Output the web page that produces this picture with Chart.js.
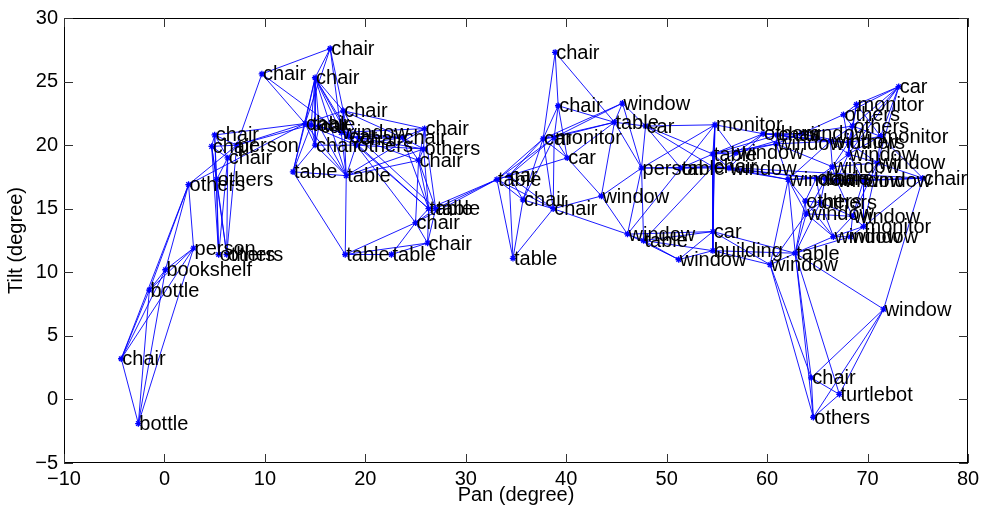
<!DOCTYPE html>
<html><head><meta charset="utf-8">
<script src="https://cdn.jsdelivr.net/npm/chart.js@4.4.1/dist/chart.umd.min.js"></script>
<style>html,body{margin:0;padding:0;background:#fff;}#wrap{width:984px;height:507px;}</style>
</head><body><div id="wrap"><canvas id="c" width="984" height="507"></canvas></div>
<script>
// ---- data ----
const nodeLabels = [
 'chair','bottle','bottle','bookshelf','person','others','chair','chair','chair','person',
 'others','others','others','chair','chair','chair','chair','chair','table','car',
 'window','car','chair','chair','others','chair','chair','others','chair','table',
 'table','table','table','chair','chair','table','table','table','car','chair',
 'chair','table','chair','chair','car','monitor','car','window','table','car',
 'window','person','window','table','window','monitor','car','building','table','chair',
 'table','window','window','others','chair','window','window','others','monitor','car',
 'others','monitor','others','window','window','window','window','window','others','table',
 'window','window','chair','others','others','window','window','monitor','window','window',
 'table','window','window','chair','turtlebot','others'];
const nodePan = [
 -4.3,-2.6,-1.5,0.1,2.9,2.4,5.0,4.7,6.3,7.2,
 5.2,5.4,6.2,9.7,16.5,15.0,17.8,14.0,14.6,15.4,
 17.6,18.3,19.4,15.0,19.1,23.7,25.9,25.8,25.3,12.8,
 18.1,26.3,27.0,25.0,26.2,18.0,22.6,33.1,34.3,35.7,
 38.7,34.7,38.9,39.2,37.7,38.8,40.1,45.6,44.8,47.9,
 43.5,47.5,46.1,47.7,51.2,54.8,54.6,54.6,51.4,54.6,
 54.6,56.9,56.2,59.6,61.0,63.4,60.9,67.6,68.9,73.1,
 68.5,71.3,68.1,66.3,68.1,66.5,71.0,62.1,64.9,65.8,
 66.9,69.6,75.5,63.8,65.3,63.9,68.5,69.6,66.6,68.3,
 62.8,60.3,71.6,64.4,67.2,64.6];
const nodeTilt = [
 3.2,-1.9,8.6,10.2,11.9,16.9,20.8,19.9,19.0,20.0,
 17.3,11.4,11.4,25.6,27.6,25.3,22.7,21.7,21.6,21.5,
 21.0,20.7,20.5,20.0,20.0,20.6,21.3,19.7,18.8,17.9,
 17.6,15.0,15.0,13.9,12.3,11.4,11.4,17.3,17.6,15.7,
 15.0,11.1,27.3,23.1,20.5,20.6,19.0,23.3,21.8,21.5,
 16.0,18.2,13.0,12.5,11.0,21.6,13.2,11.7,18.2,18.3,
 19.3,19.4,18.2,20.9,20.8,20.9,20.1,22.4,23.2,24.6,
 21.5,20.7,20.2,20.3,19.3,18.3,18.6,17.3,17.4,17.4,
 17.2,17.2,17.4,15.6,15.5,14.6,14.4,13.6,12.8,12.8,
 11.5,10.6,7.1,1.7,0.4,-1.4];
const edges = [
 [0,1],[0,2],[0,3],[0,4],[0,5],[1,2],[1,3],[1,4],[2,3],[2,4],[2,5],[3,4],[3,5],[4,5],
 [5,17],[5,9],[6,7],[6,8],[6,9],[7,8],[7,9],[8,9],[6,10],[7,10],[8,10],[10,11],[10,12],
 [6,11],[7,11],[8,12],[9,12],[8,11],[7,12],[9,17],[9,18],[6,17],[13,9],
 [13,14],[13,17],[13,20],[14,15],[14,17],[14,16],[14,20],
 [15,17],[15,18],[15,19],[15,20],[15,23],[15,29],[15,30],[15,16],[15,24],[15,21],
 [16,17],[16,20],[16,21],[16,26],[16,25],[16,30],[16,22],
 [17,18],[17,19],[17,23],[17,29],[17,30],[17,20],[17,24],
 [18,19],[18,23],[18,20],[18,29],[19,20],[19,23],[19,30],
 [20,21],[20,22],[20,25],[20,26],[20,24],[20,30],
 [21,22],[21,24],[21,25],[21,31],[21,27],[22,24],[22,25],[22,28],[22,32],
 [23,24],[23,29],[23,30],[24,25],[24,27],[24,30],[24,31],[24,33],
 [25,26],[25,27],[25,28],[25,31],[26,27],[26,28],[26,30],[26,32],
 [27,28],[27,30],[27,31],[28,30],[28,31],[28,32],[28,33],
 [29,30],[29,35],[30,35],[31,32],[31,33],[31,34],[31,37],[32,33],[32,34],[32,37],
 [33,34],[33,35],[33,36],[33,37],[34,36],[34,35],[35,36],
 [37,38],[37,39],[37,40],[37,41],[37,44],[37,45],[37,46],
 [38,39],[38,40],[38,41],[38,44],[38,45],[39,40],[39,41],[39,44],[39,45],
 [40,41],[40,44],[40,45],[40,50],[40,52],
 [42,43],[42,44],[42,48],[43,44],[43,45],[43,46],[43,48],
 [44,45],[44,46],[44,47],[44,48],[45,46],[45,47],[45,48],[46,48],[46,50],
 [47,48],[47,49],[47,51],[48,49],[48,50],[48,51],
 [49,51],[49,55],[49,59],[49,60],[49,58],[50,51],[50,52],
 [51,52],[51,53],[51,58],[51,59],[51,55],[52,53],[52,54],[52,56],[52,58],
 [53,54],[53,57],[53,56],[53,59],[54,57],[54,56],
 [55,60],[55,59],[55,56],[55,57],[55,63],[55,58],[55,61],
 [56,57],[56,59],[56,60],[56,90],[56,91],[57,59],[57,60],[57,90],[57,91],
 [58,59],[58,60],[58,62],[59,60],[59,61],[59,62],[59,77],[59,80],[59,82],
 [60,61],[60,62],[60,63],[60,64],[60,66],[61,62],[61,63],[61,66],[61,65],
 [62,77],[62,63],[62,78],
 [63,64],[63,65],[63,66],[63,73],[64,65],[64,66],[64,73],[64,72],
 [65,66],[65,67],[65,70],[65,73],[65,72],[66,73],[66,75],[66,77],
 [67,68],[67,69],[67,70],[67,72],[68,69],[68,70],[68,71],[68,74],
 [69,70],[69,71],[69,72],[69,74],[69,76],[70,71],[70,72],[70,73],[70,74],
 [71,72],[71,74],[71,76],[71,82],[72,73],[72,74],[72,75],[72,76],
 [73,74],[73,75],[73,77],[74,75],[74,76],[74,80],[74,81],
 [75,76],[75,78],[75,79],[75,80],[75,85],[76,81],[76,82],[76,87],[76,86],
 [77,78],[77,79],[77,83],[77,85],[77,90],[77,91],[78,79],[78,80],[78,83],[78,84],
 [79,80],[79,81],[79,84],[80,81],[80,82],[80,86],[81,82],[81,86],[81,87],
 [82,92],[82,87],[83,84],[83,85],[83,90],[83,88],[84,85],[84,86],[84,88],[84,90],
 [85,86],[85,88],[85,90],[85,91],[86,87],[86,88],[86,89],[87,88],[87,89],
 [88,89],[88,90],[89,90],[90,91],[90,92],[90,93],[90,94],[90,95],
 [91,93],[91,95],[92,93],[92,94],[92,95],[93,94],[93,95],[94,95]];
const xTicks = [-10,0,10,20,30,40,50,60,70,80];
const yTicks = [-5,0,5,10,15,20,25,30];
const xTitle = 'Pan (degree)';
const yTitle = 'Tilt (degree)';

// ---- chart ----
const FONT = 'Liberation Sans, Arial, Helvetica, sans-serif';
const BLUE = '#0000ff';
const datasets = [];
edges.forEach(([a,b]) => {
  datasets.push({
    data: [{x: nodePan[a], y: nodeTilt[a]}, {x: nodePan[b], y: nodeTilt[b]}],
    showLine: true, borderColor: BLUE, borderWidth: 0.9, pointRadius: 0, fill: false, tension: 0
  });
});
datasets.push({
  data: nodePan.map((p,i) => ({x: p, y: nodeTilt[i]})),
  showLine: false, pointStyle: 'star', pointRadius: 3.2, borderColor: BLUE, backgroundColor: BLUE, borderWidth: 1.3
});

const minusFmt = v => (v < 0 ? '\u2212' + Math.abs(v) : String(v));

const framePlugin = {
  id: 'frame',
  afterDraw(chart) {
    const {ctx, chartArea: a, scales: {x, y}} = chart;
    ctx.save();
    ctx.strokeStyle = '#000';
    ctx.lineWidth = 1;
    ctx.strokeRect(Math.round(a.left)+0.5, Math.round(a.top)+0.5, Math.round(a.right-a.left)-1, Math.round(a.bottom-a.top)-1);
    ctx.strokeStyle = '#333';
    const L = 9;
    ctx.beginPath();
    xTicks.forEach(v => {
      const px = Math.round(x.getPixelForValue(v)) + 0.5;
      ctx.moveTo(px, a.bottom); ctx.lineTo(px, a.bottom - L);
      ctx.moveTo(px, a.top); ctx.lineTo(px, a.top + L);
    });
    yTicks.forEach(v => {
      const py = Math.round(y.getPixelForValue(v)) + 0.5;
      ctx.moveTo(a.left, py); ctx.lineTo(a.left + L, py);
      ctx.moveTo(a.right, py); ctx.lineTo(a.right - L, py);
    });
    ctx.stroke();
    ctx.restore();
  }
};
const labelPlugin = {
  id: 'nodeLabels',
  afterDatasetsDraw(chart) {
    const {ctx, scales: {x, y}} = chart;
    ctx.save();
    ctx.fillStyle = '#000';
    ctx.font = '20px ' + FONT;
    ctx.textAlign = 'left';
    ctx.textBaseline = 'middle';
    nodeLabels.forEach((t,i) => {
      ctx.fillText(t, x.getPixelForValue(nodePan[i]) + 1, y.getPixelForValue(nodeTilt[i]) + 1);
    });
    ctx.restore();
  }
};

new Chart(document.getElementById('c'), {
  type: 'scatter',
  data: {datasets},
  options: {
    responsive: false, animation: false, devicePixelRatio: 1,
    layout: {padding: {left: 0, right: 16, top: 16, bottom: 0}},
    plugins: {legend: {display: false}, tooltip: {enabled: false}},
    scales: {
      x: {
        type: 'linear', min: -10, max: 80,
        afterBuildTicks: s => { s.ticks = xTicks.map(v => ({value: v})); },
        afterFit: s => { s.height = 44; },
        grid: {display: false, drawTicks: false},
        border: {display: false},
        ticks: {color: '#000', font: {family: FONT, size: 20}, padding: 4, maxRotation: 0, autoSkip: false, callback: minusFmt},
        title: {display: true, text: xTitle, color: '#000', font: {family: FONT, size: 20}, padding: 0}
      },
      y: {
        type: 'linear', min: -5, max: 30,
        afterBuildTicks: s => { s.ticks = yTicks.map(v => ({value: v})); },
        afterFit: s => { s.width = 64; },
        grid: {display: false, drawTicks: false},
        border: {display: false},
        ticks: {color: '#000', font: {family: FONT, size: 20}, padding: 6, autoSkip: false, callback: minusFmt},
        title: {display: true, text: yTitle, color: '#000', font: {family: FONT, size: 20}, padding: 4}
      }
    }
  },
  plugins: [framePlugin, labelPlugin]
});
</script></body></html>
